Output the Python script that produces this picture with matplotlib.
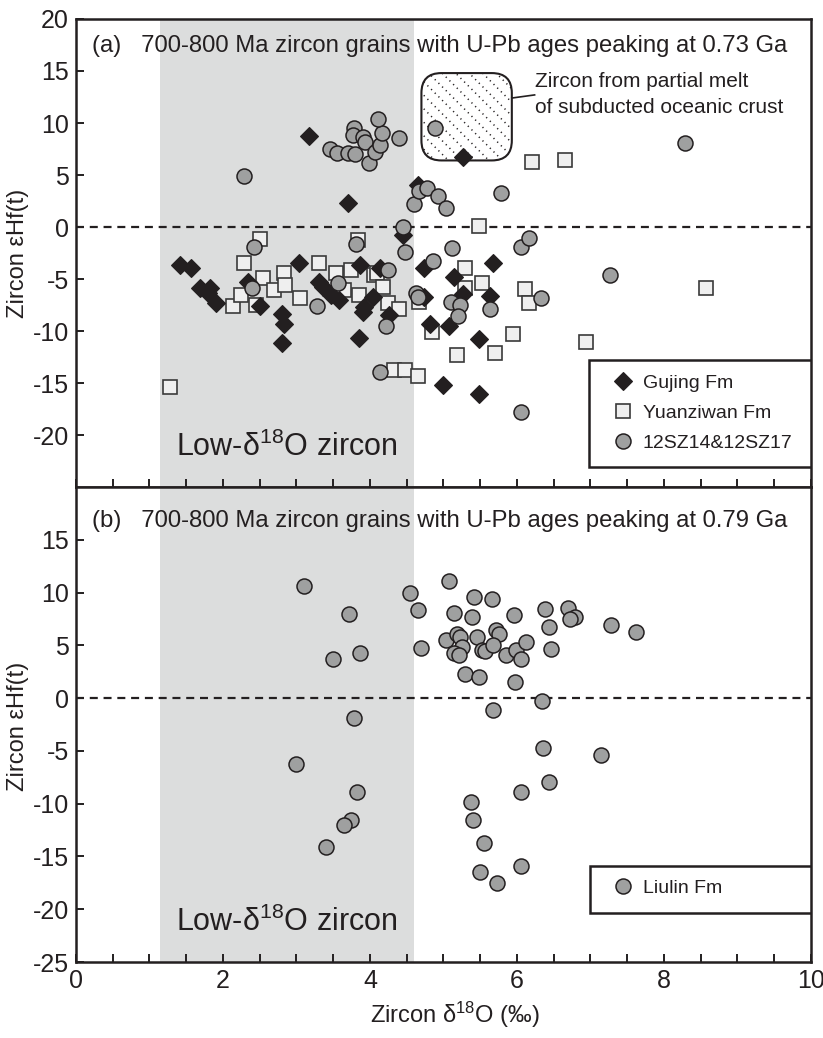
import numpy as np
import matplotlib
matplotlib.use('Agg')
import matplotlib.pyplot as plt
from matplotlib.patches import FancyBboxPatch, Rectangle
from matplotlib.lines import Line2D
from matplotlib.transforms import IdentityTransform

plt.rcParams['font.family'] = ['Liberation Sans', 'DejaVu Sans']
plt.rcParams['mathtext.fontset'] = 'custom'
plt.rcParams['mathtext.rm'] = 'Liberation Sans'
plt.rcParams['mathtext.it'] = 'Liberation Sans:italic'
plt.rcParams['axes.unicode_minus'] = False

# ---- data (delta18O, eHf(t)) ----
gujing_x = [1.42, 1.56, 1.69, 1.83, 1.79, 1.91, 2.34, 2.51, 2.80, 2.83, 2.80, 3.03, 3.17,
            3.31, 3.36, 3.47, 3.58, 3.70, 3.87, 3.92, 3.91, 3.85, 4.04, 4.13, 4.26, 4.45,
            4.66, 4.74, 4.74, 4.81, 4.99, 5.08, 5.15, 5.26, 5.27, 5.48, 5.48, 5.63, 5.68]
gujing_y = [-3.65, -3.9, -5.9, -5.9, -6.35, -7.3, -5.3, -7.6, -8.4, -9.3, -11.15, -3.45, 8.75,
            -5.3, -5.8, -6.55, -7.0, 2.3, -3.65, -7.7, -8.2, -10.7, -6.7, -3.95, -8.45, -0.8,
            4.0, -3.95, -6.7, -9.3, -15.2, -9.5, -4.8, 6.7, -6.45, -10.8, -16.1, -6.6, -3.45]

yuan_x = [1.28, 2.13, 2.24, 2.28, 2.45, 2.51, 2.55, 2.69, 2.83, 2.84, 3.05, 3.31, 3.54,
          3.65, 3.74, 3.84, 3.85, 4.06, 4.09, 4.18, 4.25, 4.33, 4.40, 4.47, 4.66, 4.67,
          4.84, 5.18, 5.29, 5.29, 5.48, 5.52, 5.70, 5.95, 6.11, 6.17, 6.20, 6.65, 6.94, 8.57]
yuan_y = [-15.4, -7.6, -6.55, -3.45, -7.5, -1.2, -4.9, -6.05, -4.45, -5.6, -6.8, -3.45, -4.45,
          -6.05, -4.1, -1.25, -6.55, -4.6, -4.4, -5.75, -7.3, -13.75, -7.9, -13.75, -14.3, -7.2,
          -10.1, -12.35, -3.95, -5.9, 0.1, -5.35, -12.1, -10.3, -6.0, -7.3, 6.25, 6.45, -11.05, -5.85]

sz_x = [2.28, 2.42, 2.39, 3.28, 3.46, 3.55, 3.57, 3.70, 3.80, 3.78, 3.77, 3.91, 3.93, 3.98,
        4.07, 4.14, 4.17, 4.11, 4.40, 3.81, 4.25, 4.22, 4.14, 4.45, 4.47, 4.60, 4.67, 4.77,
        4.63, 4.66, 4.86, 4.88, 4.92, 5.04, 5.11, 5.10, 5.22, 5.20, 5.63, 5.78, 6.05, 6.17,
        6.33, 6.05, 7.27, 8.29]
sz_y = [4.9, -1.9, -5.85, -7.6, 7.5, 7.1, -5.4, 7.1, 7.0, 9.5, 8.85, 8.65, 8.2, 6.15,
        7.2, 7.9, 9.05, 10.4, 8.55, -1.6, -4.1, -9.5, -13.9, 0.0, -2.4, 2.2, 3.5, 3.75,
        -6.35, -6.7, -3.3, 9.5, 3.0, 1.8, -2.0, -7.2, -7.5, -8.55, -7.9, 3.25, -1.9, -1.05,
        -6.8, -17.8, -4.6, 8.1]

liulin_x = [3.10, 3.72, 3.50, 3.87, 3.78, 2.99, 3.82, 3.74, 3.65, 3.40, 4.55, 4.66, 4.69,
            5.07, 5.42, 5.66, 5.14, 5.39, 5.96, 6.38, 6.69, 6.79, 6.72, 6.43, 7.28, 7.62,
            5.72, 5.75, 5.03, 5.18, 5.23, 5.25, 5.15, 5.21, 5.46, 5.52, 5.56, 5.68, 5.85,
            5.98, 6.05, 6.12, 6.46, 5.29, 5.49, 5.97, 6.34, 5.68, 6.35, 7.14, 6.43, 6.05,
            5.38, 5.40, 5.55, 5.50, 5.73, 6.05]
liulin_y = [10.6, 8.0, 3.7, 4.3, -1.9, -6.25, -8.9, -11.5, -12.0, -14.1, 9.95, 8.35, 4.75,
            11.1, 9.6, 9.4, 8.05, 7.7, 7.85, 8.45, 8.55, 7.7, 7.5, 6.75, 6.9, 6.25,
            6.5, 6.05, 5.5, 6.05, 5.8, 4.85, 4.25, 4.1, 5.8, 4.55, 4.45, 5.0, 4.1,
            4.55, 3.7, 5.3, 4.65, 2.3, 2.0, 1.5, -0.3, -1.15, -4.75, -5.4, -7.9, -8.9,
            -9.8, -11.5, -13.75, -16.5, -17.5, -15.9]

low_o = (1.15, 4.6)          # low-d18O band
melt_box = (4.70, 5.93, 6.4, 14.8)   # x0, x1, y0, y1

ink = '#231f20'
shade = '#dcdddd'
circ = dict(marker='o', ms=10.8, mfc='#9fa0a0', mec=ink, mew=1.1, ls='none')
sq = dict(marker='s', ms=10.2, mfc='#efefef', mec='#3a3a3a', mew=1.2, ls='none')
dia = dict(marker='D', ms=9.0, mfc=ink, mec=ink, mew=0.8, ls='none')

fig = plt.figure(figsize=(8.23, 10.38), dpi=100)
ax1 = fig.add_axes([0.0923, 0.5308, 0.8931, 0.4509])
ax2 = fig.add_axes([0.0923, 0.0732, 0.8931, 0.4576])

for ax in (ax1, ax2):
    ax.set_xlim(0, 10)
    ax.set_ylim(-25, 20)
    ax.axvspan(low_o[0], low_o[1], color=shade, lw=0, zorder=0)
    ax.axhline(0, color=ink, ls=(0, (3.6, 2.6)), lw=1.6, zorder=1)
    for s in ax.spines.values():
        s.set_linewidth(1.8)
        s.set_color(ink)
    ax.set_xticks(np.arange(0, 10.1, 2))
    ax.set_xticks(np.arange(0, 10.1, 0.5), minor=True)
    ax.tick_params(which='both', direction='in', length=6, width=1.4, color=ink,
                   top=False, right=False, labelsize=18, labelcolor=ink, pad=5)
    ax.text(np.mean(low_o), -21.2, 'Low-δ$^{18}$O zircon', ha='center', va='center',
            fontsize=22, color=ink, zorder=2)

ax1.set_yticks(np.arange(-20, 21, 5))
ax1.tick_params(labelbottom=False)
ax2.set_yticks(np.arange(-25, 16, 5))

# panel (a)
ax1.plot(yuan_x, yuan_y, zorder=3, **sq)
ax1.plot(gujing_x, gujing_y, zorder=4, **dia)
ax1.plot(sz_x, sz_y, zorder=5, **circ)
ax1.text(0.022, 0.942, '(a)   700-800 Ma zircon grains with U-Pb ages peaking at 0.73 Ga',
         transform=ax1.transAxes, fontsize=17.2, color=ink, va='center')

# panel (b)
ax2.plot(liulin_x, liulin_y, zorder=5, **circ)
ax2.text(0.022, 0.928, '(b)   700-800 Ma zircon grains with U-Pb ages peaking at 0.79 Ga',
         transform=ax2.transAxes, fontsize=17.2, color=ink, va='center')

# hatched field for partial melts of subducted oceanic crust (drawn in pixels)
p0 = ax1.transData.transform((melt_box[0], melt_box[2]))
p1 = ax1.transData.transform((melt_box[1], melt_box[3]))
box = FancyBboxPatch(p0, p1[0] - p0[0], p1[1] - p0[1],
                     boxstyle='round,pad=0,rounding_size=20', transform=IdentityTransform(),
                     fc='white', ec=ink, lw=1.5, zorder=2)
ax1.add_patch(box)
for c in np.arange(p0[0] + p0[1], p1[0] + p1[1] + 1, 13.5):
    xs = np.array([p0[0] - 5, p1[0] + 5])
    ln = Line2D(xs, c - xs, transform=IdentityTransform(), color=ink, lw=1.1,
                ls=(0, (0.8, 2.6)), zorder=2.5)
    ln.set_clip_path(box)
    ax1.add_line(ln)
lx = ax1.transData.transform((melt_box[1], 12.4))
rx = ax1.transData.transform((6.24, 12.7))
ax1.add_line(Line2D([lx[0], rx[0]], [lx[1], rx[1]], transform=IdentityTransform(),
                    color=ink, lw=1.2, zorder=2.5))
ax1.text(6.24, 12.75, 'Zircon from partial melt\nof subducted oceanic crust', fontsize=15,
         color=ink, va='center', ha='left', linespacing=1.45, zorder=6)

# legends
ax1.add_patch(Rectangle((0.698, 0.043), 0.302, 0.228, transform=ax1.transAxes, fc='white',
                        ec=ink, lw=1.8, zorder=6))
h1 = [Line2D([], [], **dia), Line2D([], [], **sq), Line2D([], [], **circ)]
lg = ax1.legend(h1, ['Gujing Fm', 'Yuanziwan Fm', '12SZ14&12SZ17'], loc='center left',
                bbox_to_anchor=(0.71, 0.158), frameon=False, fontsize=14, handlelength=1.0,
                handletextpad=0.5, labelspacing=0.62, borderpad=0.3)
lg.set_zorder(7)
for t in lg.get_texts():
    t.set_color(ink)

ax2.add_patch(Rectangle((0.699, 0.103), 0.301, 0.099, transform=ax2.transAxes, fc='white',
                        ec=ink, lw=1.8, zorder=6))
lg2 = ax2.legend([Line2D([], [], **circ)], ['Liulin Fm'], loc='center left',
                 bbox_to_anchor=(0.71, 0.155), frameon=False, fontsize=14, handlelength=1.0,
                 handletextpad=0.5, borderpad=0.3)
lg2.set_zorder(7)
for t in lg2.get_texts():
    t.set_color(ink)

# axis labels
fig.text(0.022, 0.756, 'Zircon εHf(t)', rotation=90, ha='center', va='center',
         fontsize=17, color=ink)
fig.text(0.022, 0.300, 'Zircon εHf(t)', rotation=90, ha='center', va='center',
         fontsize=17, color=ink)
fig.text(0.552, 0.022, 'Zircon δ$^{18}$O (‰)', ha='center', va='center',
         fontsize=17, color=ink)

fig.savefig('out.png', dpi=100)
